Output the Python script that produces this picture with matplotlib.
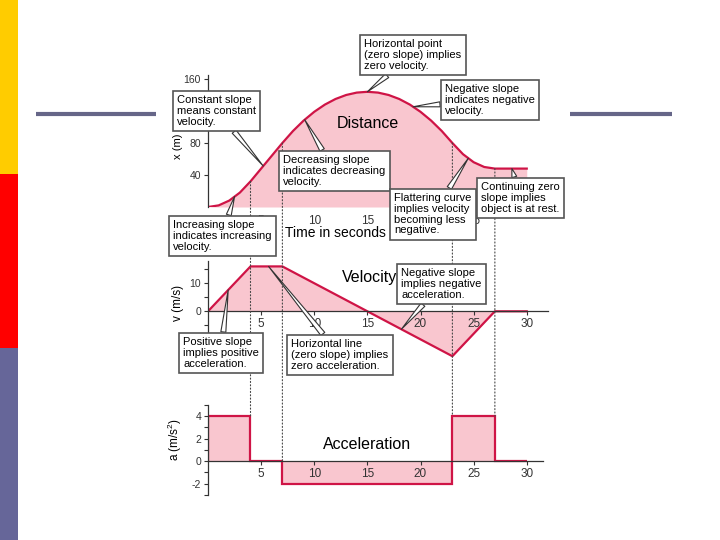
import numpy as np
import matplotlib
matplotlib.use('Agg')
import matplotlib.pyplot as plt
from matplotlib.patches import Rectangle, ConnectionPatch

plt.rcParams['font.family'] = ['Liberation Sans', 'DejaVu Sans']
plt.rcParams['mathtext.default'] = 'regular'
plt.rcParams['axes.unicode_minus'] = False

# distance, one sample per second
dist_t = list(range(0, 31))
dist = [0, 2, 8, 18, 32, 48, 64, 80, 95, 108, 119, 128, 135, 140, 143, 144,
        143, 140, 135, 128, 119, 108, 95, 80, 66, 56, 50, 48, 48, 48, 48]

vel_t = [0, 4, 7, 23, 27, 30]
vel = [0, 16, 16, -16, 0, 0]

acc_edges = [0, 4, 7, 23, 27, 30]
acc = [4, 0, -2, 4, 0]

# times where the motion changes
breaks = [4, 7, 23, 27]

LINE = '#cf1446'
FILL = '#f9c6cf'
AX = '#333333'

W, H = 720, 540


def frac(x0, y0, x1, y1):
    # pixel box -> figure fraction [left, bottom, width, height]
    return [x0 / W, 1 - y1 / H, (x1 - x0) / W, (y1 - y0) / H]


fig = plt.figure(figsize=(7.2, 5.4), dpi=100)

ax1 = fig.add_axes(frac(208, 75, 548, 207))
ax2 = fig.add_axes(frac(208, 258, 548, 359))
ax3 = fig.add_axes(frac(208, 405, 548, 497))

for ax in (ax1, ax2, ax3):
    ax.set_facecolor('none')
    ax.set_xlim(0, 32)
    for s in ('top', 'right'):
        ax.spines[s].set_visible(False)
    ax.spines['left'].set_color(AX)
    ax.spines['bottom'].set_color(AX)
    ax.spines['left'].set_linewidth(0.9)
    ax.spines['bottom'].set_linewidth(0.9)
    ax.tick_params(labelsize=7.5, colors=AX, length=3, width=0.8, pad=2)
    ax.set_xticks([5, 10, 15, 20, 25, 30])

# distance
ax1.fill_between(dist_t, dist, 0, color=FILL, lw=0)
ax1.plot(dist_t, dist, color=LINE, lw=1.6)
ax1.set_ylim(0, 165)
ax1.set_yticks([40, 80, 120, 160])
ax1.spines['bottom'].set_visible(False)
ax1.tick_params(axis='x', length=0, pad=6, labelsize=8.5)
ax1.set_xticks([5, 10, 15, 20, 25])
ax1.text(15, 105, 'Distance', ha='center', va='center', fontsize=11.5)
ax1.text(12, -33, 'Time in seconds', ha='center', va='center', fontsize=10)

# velocity
ax2.fill_between(vel_t, vel, 0, color=FILL, lw=0)
ax2.plot(vel_t, vel, color=LINE, lw=1.6)
ax2.set_ylim(-17, 19)
ax2.spines['left'].set_bounds(-8, 18)
ax2.spines['bottom'].set_position(('data', 0))
ax2.spines['bottom'].set_bounds(0, 32)
ax2.set_yticks([0, 10])
ax2.set_yticks([-5, 5, 15], minor=True)
ax2.tick_params(axis='y', which='minor', length=3, width=0.8, colors=AX)
ax2.tick_params(axis='x', labelsize=8.5)
ax2.text(15.2, 12, 'Velocity', ha='center', va='center', fontsize=11.5)

# acceleration
ax3.stairs(acc, acc_edges, baseline=0, fill=True, color=FILL, lw=0)
ax3.stairs(acc, acc_edges, baseline=0, color=LINE, lw=1.6)
ax3.set_ylim(-3.2, 5)
ax3.spines['left'].set_bounds(-3, 5)
ax3.spines['bottom'].set_position(('data', 0))
ax3.spines['bottom'].set_bounds(0, 31.5)
ax3.set_yticks([-2, 0, 2, 4])
ax3.set_yticks([-3, -1, 1, 3, 5], minor=True)
ax3.tick_params(axis='y', which='minor', length=3, width=0.8, colors=AX)
ax3.tick_params(axis='x', labelsize=8.5)
ax3.text(15, 1.5, 'Acceleration', ha='center', va='center', fontsize=11.5)

# overlay in pixel coordinates for slide decoration and callouts
ov = fig.add_axes([0, 0, 1, 1])
ov.set_xlim(0, W)
ov.set_ylim(H, 0)
ov.axis('off')
ov.set_facecolor('none')

ov.add_patch(Rectangle((0, 0), 18, 174, color='#ffcc00', lw=0))
ov.add_patch(Rectangle((0, 174), 18, 174, color='#ff0000', lw=0))
ov.add_patch(Rectangle((0, 348), 18, 192, color='#666699', lw=0))
ov.plot([36, 156], [114, 114], color='#666688', lw=3, solid_capstyle='butt')
ov.plot([570, 672], [114, 114], color='#666688', lw=3, solid_capstyle='butt')

ov.text(178, 146, 'x (m)', rotation=90, ha='center', va='center', fontsize=8)
ov.text(178, 303, 'v (m/s)', rotation=90, ha='center', va='center', fontsize=8.5)
ov.text(175, 440, 'a (m/s$^2$)', rotation=90, ha='center', va='center', fontsize=8.5)

# dotted guides from distance curve down to acceleration
for t in breaks:
    top = np.interp(t, dist_t, dist)
    i = acc_edges.index(t)
    bot = max(acc[i - 1], acc[i])
    cp = ConnectionPatch(xyA=(t, top), coordsA=ax1.transData,
                         xyB=(t, bot), coordsB=ax3.transData,
                         color='#444444', lw=0.8, ls=(0, (1, 2)), zorder=1)
    ov.add_artist(cp)


def x_at(t):
    return (t, np.interp(t, dist_t, dist))


def v_at(t):
    return (t, np.interp(t, vel_t, vel))


callouts = [
    ('Horizontal point\n(zero slope) implies\nzero velocity.', (364, 39), ax1, x_at(15)),
    ('Negative slope\nindicates negative\nvelocity.', (445, 84), ax1, x_at(19.3)),
    ('Constant slope\nmeans constant\nvelocity.', (177, 95), ax1, x_at(5.2)),
    ('Decreasing slope\nindicates decreasing\nvelocity.', (283, 155), ax1, x_at(9.1)),
    ('Flattering curve\nimplies velocity\nbecoming less\nnegative.', (394, 193), ax1, x_at(24.5)),
    ('Continuing zero\nslope implies\nobject is at rest.', (481, 182), ax1, x_at(28.6)),
    ('Increasing slope\nindicates increasing\nvelocity.', (173, 220), ax1, x_at(2.5)),
    ('Negative slope\nimplies negative\nacceleration.', (401, 268), ax2, v_at(18.2)),
    ('Positive slope\nimplies positive\nacceleration.', (183, 337), ax2, v_at(1.9)),
    ('Horizontal line\n(zero slope) implies\nzero acceleration.', (291, 339), ax2, v_at(5.7)),
]

for label, pos, ax, pt in callouts:
    ov.annotate(label, xy=pt, xycoords=ax.transData, xytext=pos,
                textcoords='data', ha='left', va='top', fontsize=8,
                linespacing=1.1, zorder=5, annotation_clip=False,
                bbox=dict(boxstyle='square,pad=0.4', fc='white', ec='#555555', lw=1.2),
                arrowprops=dict(arrowstyle='wedge,tail_width=0.45,shrink_factor=0.5',
                                fc='white', ec='#333333', lw=0.8,
                                shrinkA=0, shrinkB=0))

fig.savefig('out.png', dpi=100)
